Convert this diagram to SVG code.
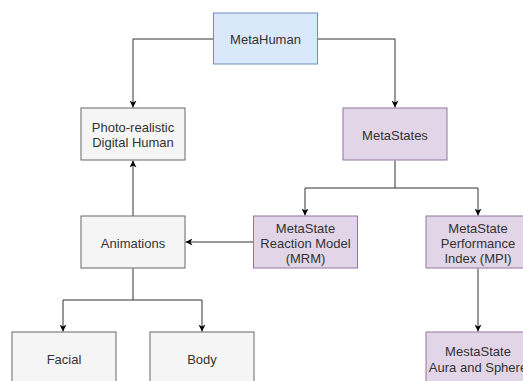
<svg xmlns="http://www.w3.org/2000/svg" width="523" height="381" viewBox="0 0 523 381">
<style>
.b{fill:#dae8fc;stroke:#6c8ebf;stroke-width:1}
.p{fill:#e1d5e7;stroke:#9673a6;stroke-width:1}
.g{fill:#f5f5f5;stroke:#666666;stroke-width:1}
text{font-family:"Liberation Sans",Arial,sans-serif;font-size:13px;fill:#333333;text-anchor:middle;dominant-baseline:central}
.e{fill:none;stroke:#333333;stroke-width:1}
</style>
<defs>
<marker id="a" viewBox="0 0 10 10" refX="10" refY="5" markerWidth="7" markerHeight="7" orient="auto" markerUnits="userSpaceOnUse"><path d="M0,0 L10,5 L0,10 L3,5 z" fill="#000"/></marker>
</defs>
<rect width="523" height="381" fill="#ffffff"/>
<g id="connectors">
<path class="e" d="M213.5,39 H133 V107.5" marker-end="url(#a)"/>
<path class="e" d="M317.5,39 H395 V107.5" marker-end="url(#a)"/>
<path class="e" d="M395,160.5 V188 H305 V215.5" marker-end="url(#a)"/>
<path class="e" d="M395,188 H478 V215.5" marker-end="url(#a)"/>
<path class="e" d="M253,242 H185.5" marker-end="url(#a)"/>
<path class="e" d="M133,216 V160.5" marker-end="url(#a)"/>
<path class="e" d="M133,268.5 V300 H63 V331.5" marker-end="url(#a)"/>
<path class="e" d="M133,300 H202 V331.5" marker-end="url(#a)"/>
<path class="e" d="M478,268.5 V331.5" marker-end="url(#a)"/>
</g>
<g id="metahuman"><rect class="b" x="213.5" y="13" width="104" height="51"/><text x="265.5" y="39">MetaHuman</text></g>
<g id="photo"><rect class="g" x="81" y="108" width="104" height="52"/><text x="133" y="127">Photo-realistic</text><text x="133" y="142">Digital Human</text></g>
<g id="metastates"><rect class="p" x="343" y="108" width="104" height="52"/><text x="395" y="135">MetaStates</text></g>
<g id="animations"><rect class="g" x="81" y="216" width="104" height="52"/><text x="133" y="243">Animations</text></g>
<g id="mrm"><rect class="p" x="253.5" y="216" width="104" height="52"/><text x="305.5" y="228">MetaState</text><text x="305.5" y="243">Reaction Model</text><text x="305.5" y="258">(MRM)</text></g>
<g id="mpi"><rect class="p" x="426" y="216" width="104" height="52"/><text x="478" y="228">MetaState</text><text x="478" y="243">Performance</text><text x="478" y="258">Index (MPI)</text></g>
<g id="facial"><rect class="g" x="12" y="332" width="104" height="52"/><text x="64" y="359">Facial</text></g>
<g id="body"><rect class="g" x="150" y="332" width="104" height="52"/><text x="202" y="359">Body</text></g>
<g id="aura"><rect class="p" x="426" y="332" width="104" height="52"/><text x="478" y="351">MestaState</text><text x="478" y="367">Aura and Sphere</text></g>
</svg>
